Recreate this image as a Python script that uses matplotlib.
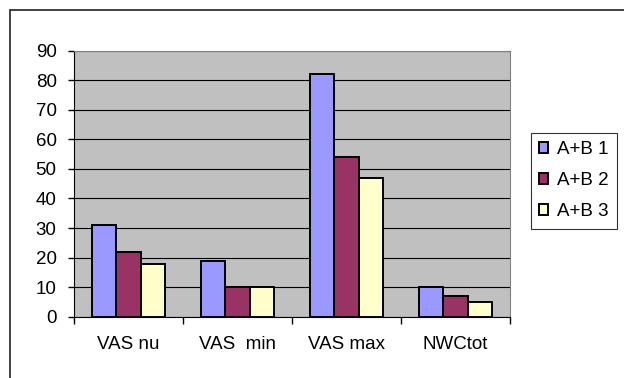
import numpy as np
import matplotlib
matplotlib.use("Agg")
from matplotlib import pyplot as plt
from matplotlib.patches import Rectangle

categories = ["VAS nu", "VAS  min", "VAS max", "NWCtot"]
series_names = ["A+B 1", "A+B 2", "A+B 3"]
ab1 = [31, 19, 82, 10]
ab2 = [22, 10, 54, 7]
ab3 = [18, 10, 47, 5]
colors = ["#9999ff", "#993366", "#ffffcc"]
yticks = list(range(0, 100, 10))

plt.rcParams['font.family'] = ['Liberation Sans', 'DejaVu Sans']
fs = 13.5

fig = plt.figure(figsize=(6.24, 3.78), dpi=100)
ax = fig.add_axes([74 / 624, 1 - 316.7 / 378, 436 / 624, 266 / 378])
ax.set_facecolor("#c0c0c0")

# outer chart border (only top and left visible)
fig.patches.append(Rectangle((9.5 / 624, -0.1), 1.2, 1.1 - 10 / 378,
                             transform=fig.transFigure, fill=False,
                             edgecolor="#333333", linewidth=1.3))

x = np.arange(len(categories))
w = 0.222
for i, vals in enumerate([ab1, ab2, ab3]):
    ax.bar(x + (i - 1) * w, vals, width=w, color=colors[i], edgecolor="black",
           linewidth=1.4, label=series_names[i], zorder=3)

ax.set_xlim(-0.5, len(categories) - 0.5)
ax.set_ylim(0, 90)
ax.set_yticks(yticks)
ax.yaxis.grid(True, color="black", linewidth=0.8, zorder=1)
ax.tick_params(axis='y', length=4.5, width=1, labelsize=fs, pad=8)

ax.set_xticks(np.arange(len(categories) + 1) - 0.5)
ax.set_xticklabels([])
ax.set_xticks(x, minor=True)
ax.set_xticklabels(categories, minor=True, fontsize=fs)
ax.tick_params(axis='x', which='major', length=5, width=1, direction='out')
ax.tick_params(axis='x', which='minor', length=0, pad=14)

for s in ["top", "right"]:
    ax.spines[s].set_color("#808080")
for s in ["left", "bottom"]:
    ax.spines[s].set_color("black")

leg = ax.legend(loc="upper left", bbox_to_anchor=(530.5 / 624, 1 - 132.7 / 378),
                bbox_transform=fig.transFigure, fontsize=fs, frameon=True,
                fancybox=False, edgecolor="black", handlelength=0.48,
                handleheight=0.48, handletextpad=0.5, labelspacing=0.75,
                borderpad=0.45, borderaxespad=0)
leg.get_frame().set_linewidth(0.8)
for h in leg.legend_handles:
    h.set_linewidth(1.4)

fig.savefig("out.png", dpi=100, facecolor="white")
